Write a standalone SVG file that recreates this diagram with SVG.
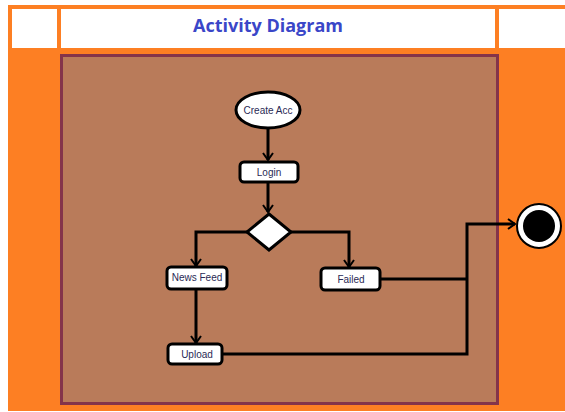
<svg xmlns="http://www.w3.org/2000/svg" width="565" height="412" viewBox="0 0 565 412">
<defs>
<style>
.box{fill:#fff;stroke:#000;stroke-width:3}
.lbl{font-family:"Liberation Sans",Arial,sans-serif;font-size:10px;fill:#2a2a55;text-anchor:middle}
.ln{fill:none;stroke:#000;stroke-width:3}
</style>
<marker id="arr" markerWidth="12" markerHeight="12" refX="9" refY="6" orient="auto" markerUnits="userSpaceOnUse">
<path d="M2,1 L9,6 L2,11" fill="none" stroke="#000" stroke-width="2"/>
</marker>
</defs>
<rect x="0" y="0" width="565" height="412" fill="#fff"/>
<rect x="8" y="5" width="557" height="406" fill="#fd7f23"/>
<rect x="12" y="9" width="45" height="39" fill="#fff"/>
<rect x="61" y="9" width="434" height="39" fill="#fff"/>
<rect x="499" y="9" width="66" height="39" fill="#fff"/>
<text x="268" y="32" font-family="'Open Sans','Liberation Sans',sans-serif" font-size="18" font-weight="bold" fill="#3a46c8" text-anchor="middle">Activity Diagram</text>
<rect x="61.5" y="55.5" width="436" height="348" fill="#b97b5a" stroke="#84344a" stroke-width="3"/>
<g id="connectors">
<line class="ln" x1="268" y1="128" x2="268" y2="160" marker-end="url(#arr)"/>
<line class="ln" x1="268" y1="182" x2="268" y2="212" marker-end="url(#arr)"/>
<polyline class="ln" points="247,232 196,232 196,266" marker-end="url(#arr)"/>
<polyline class="ln" points="291,232 349,232 349,267" marker-end="url(#arr)"/>
<line class="ln" x1="196" y1="289" x2="196" y2="343" marker-end="url(#arr)"/>
<line class="ln" x1="380" y1="279" x2="467" y2="279"/>
<polyline class="ln" points="222,354 467,354 467,224 515,224" marker-end="url(#arr)"/>
</g>
<g id="create-acc"><ellipse class="box" cx="268" cy="110" rx="32" ry="18"/><text class="lbl" x="268" y="114" font-size="11">Create Acc</text></g>
<g id="login"><rect class="box" x="240" y="162" width="58" height="20" rx="4"/><text class="lbl" x="269" y="176">Login</text></g>
<g id="decision"><polygon class="box" points="269,214 291,232 269,250 247,232"/></g>
<g id="news-feed"><rect class="box" x="167" y="267" width="60" height="22" rx="4"/><text class="lbl" x="197" y="281">News Feed</text></g>
<g id="failed"><rect class="box" x="321" y="268" width="59" height="22" rx="4"/><text class="lbl" x="351" y="283">Failed</text></g>
<g id="upload"><rect class="box" x="168" y="344" width="54" height="20" rx="4"/><text class="lbl" x="197" y="358">Upload</text></g>
<g id="end"><circle cx="539" cy="226" r="22" fill="#fff" stroke="#000" stroke-width="2"/><circle cx="539" cy="226" r="16" fill="#000"/></g>
</svg>
